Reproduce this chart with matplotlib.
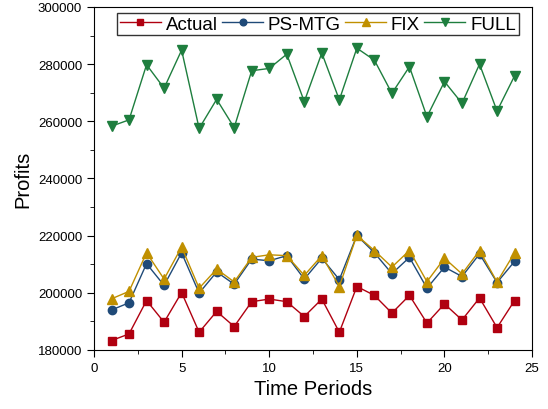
import matplotlib
matplotlib.use("Agg")
import matplotlib.pyplot as plt
from matplotlib.ticker import MultipleLocator

plt.rcParams['font.family'] = ['Liberation Sans', 'DejaVu Sans']

periods = list(range(1, 25))
actual = [183300, 185600, 197300, 189700, 200100, 186200, 193500, 188200, 196900, 197800, 196900, 191700,
          197800, 186200, 202200, 199100, 192900, 199100, 189400, 196100, 190500, 198200, 187800, 197300]
ps_mtg = [194000, 196500, 210200, 202600, 214000, 199900, 207300, 203000, 211800, 211200, 213000, 204800,
          212100, 204600, 220100, 214000, 206700, 212400, 201600, 209000, 205700, 213600, 203600, 211000]
fix = [197900, 200500, 214000, 204800, 216000, 201600, 208300, 203800, 212400, 213300, 213000, 206100,
       213000, 202200, 220100, 214800, 209000, 214800, 203900, 212100, 206600, 214800, 203800, 214000]
full = [258300, 260500, 279800, 271600, 284900, 257500, 267700, 257800, 277700, 278500, 283500, 266900,
        283900, 267500, 285600, 281400, 269800, 279100, 261600, 273900, 266300, 280000, 263600, 275900]

fig = plt.figure(figsize=(5.48, 4.10), dpi=100)
ax = fig.add_axes([0.1715, 0.144, 0.7995, 0.8365])

ax.plot(periods, actual, color='#B00010', marker='s', markersize=5.2, linewidth=1, label='Actual')
ax.plot(periods, ps_mtg, color='#1F4A78', marker='o', markersize=6, linewidth=1, label='PS-MTG')
ax.plot(periods, fix, color='#C09000', marker='^', markersize=6.5, linewidth=1, label='FIX')
ax.plot(periods, full, color='#1E7E3E', marker='v', markersize=6.5, linewidth=1, label='FULL')

ax.set_xlim(0, 25)
ax.set_ylim(180000, 300000)
ax.xaxis.set_major_locator(MultipleLocator(5))
ax.xaxis.set_minor_locator(MultipleLocator(2.5))
ax.yaxis.set_major_locator(MultipleLocator(20000))
ax.yaxis.set_minor_locator(MultipleLocator(10000))
ax.tick_params(which='both', direction='out', top=False, right=False, labelsize=9.5)
ax.tick_params(which='major', length=5)
ax.tick_params(which='minor', length=3)
ax.set_xlabel('Time Periods', fontsize=14.5)
ax.set_ylabel('Profits', fontsize=14.5)

leg = ax.legend(loc='upper center', ncol=4, fontsize=13.5, frameon=True, fancybox=False,
                edgecolor='black', handlelength=2.2, handletextpad=0.25, columnspacing=0.22,
                borderpad=0.15, borderaxespad=0.3, bbox_to_anchor=(0.511, 1.0), markerscale=0.8)
leg.get_frame().set_linewidth(1)

fig.savefig('out.png', dpi=100)
